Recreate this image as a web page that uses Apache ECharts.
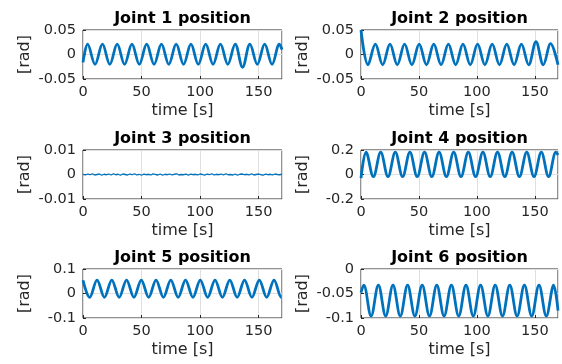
<!DOCTYPE html>
<html>
<head>
<meta charset="utf-8">
<script src="https://cdn.jsdelivr.net/npm/echarts@6/dist/echarts.min.js"></script>
<style>
html,body{margin:0;padding:0;background:#fff;}
#chart{width:562px;height:364px;}
</style>
</head>
<body>
<div id="chart"></div>
<script>
// ---- data ----
const titles = ['Joint 1 position','Joint 2 position','Joint 3 position','Joint 4 position','Joint 5 position','Joint 6 position'];
const xTicks = [0, 50, 100, 150];
const xMax = 170;
const yTicks = [
  [-0.05, 0, 0.05],
  [-0.05, 0, 0.05],
  [-0.01, 0, 0.01],
  [-0.2, 0, 0.2],
  [-0.1, 0, 0.1],
  [-0.1, -0.05, 0]
];
const yTickLabels = [
  ['-0.05','0','0.05'],
  ['-0.05','0','0.05'],
  ['-0.01','0','0.01'],
  ['-0.2','0','0.2'],
  ['-0.1','0','0.1'],
  ['-0.1','-0.05','0']
];

// Joint 1: extrema (time, value)
const j1T = [0, 4.0, 10.3, 16.6, 22.9, 29.2, 35.5, 41.8, 48.1, 54.4, 60.7, 67.0, 73.3, 79.6, 85.9, 92.2, 98.5, 104.8, 111.1, 117.4, 123.7, 130.0, 136.3, 142.6, 148.9, 155.2, 161.5, 167.8, 170];
const j1V = [-0.016, 0.021, -0.020, 0.021, -0.020, 0.021, -0.020, 0.021, -0.020, 0.021, -0.020, 0.021, -0.020, 0.021, -0.020, 0.021, -0.020, 0.021, -0.020, 0.021, -0.020, 0.021, -0.026, 0.021, -0.020, 0.021, -0.020, 0.021, 0.010];

// Joint 2
const j2T = [0, 6.1, 12.4, 18.7, 25.0, 31.3, 37.6, 43.9, 50.2, 56.5, 62.8, 69.1, 75.4, 81.7, 88.0, 94.3, 100.6, 106.9, 113.2, 119.5, 125.8, 132.1, 138.4, 144.7, 151.0, 157.3, 163.6, 170];
const j2V = [0.050, -0.021, 0.021, -0.021, 0.021, -0.021, 0.021, -0.021, 0.021, -0.021, 0.021, -0.021, 0.021, -0.021, 0.021, -0.021, 0.021, -0.021, 0.021, -0.021, 0.021, -0.021, 0.021, -0.021, 0.026, -0.021, 0.022, -0.021];

// Joint 3: small noise around zero (sampled evenly over 0..170 s)
const j3V = [0.0001,-0.0002,0.0002,-0.0001,0.0003,-0.0002,0.0000,0.0002,-0.0003,0.0001,-0.0001,0.0002,-0.0002,0.0003,-0.0001,0.0001,-0.0003,0.0002,0.0000,-0.0002,0.0002,-0.0001,0.0003,-0.0002,0.0001,-0.0003,0.0002,-0.0001,0.0001,-0.0002,0.0003,0.0000,-0.0002,0.0002,-0.0003,0.0001,-0.0001,0.0002,-0.0002,0.0001,0.0003,-0.0002,0.0000,-0.0001,0.0002,-0.0003,0.0002,-0.0001,0.0001,-0.0002,0.0002,0.0000,-0.0003,0.0002,-0.0001,0.0003,-0.0002,0.0001,-0.0001,0.0002,-0.0002,0.0003,-0.0001,0.0000,-0.0002,0.0002,-0.0003,0.0001,0.0002,-0.0001,0.0001,-0.0002,0.0003,-0.0002,0.0000,0.0002,-0.0001,-0.0003,0.0002,-0.0001,0.0001,-0.0002,0.0002,0.0000,-0.0001,0.0001];

// Joint 4
const j4T = [0, 4.4, 10.7, 17.0, 23.3, 29.6, 35.9, 42.2, 48.5, 54.8, 61.1, 67.4, 73.7, 80.0, 86.3, 92.6, 98.9, 105.2, 111.5, 117.8, 124.1, 130.4, 136.7, 143.0, 149.3, 155.6, 161.9, 168.2, 170];
const j4V = [-0.030, 0.182, -0.018, 0.182, -0.018, 0.182, -0.018, 0.182, -0.018, 0.182, -0.018, 0.182, -0.018, 0.182, -0.018, 0.182, -0.018, 0.182, -0.018, 0.182, -0.018, 0.182, -0.018, 0.182, -0.018, 0.182, -0.018, 0.182, 0.160];

// Joint 5
const j5T = [0, 5.7, 12.0, 18.3, 24.6, 30.9, 37.2, 43.5, 49.8, 56.1, 62.4, 68.7, 75.0, 81.3, 87.6, 93.9, 100.2, 106.5, 112.8, 119.1, 125.4, 131.7, 138.0, 144.3, 150.6, 156.9, 163.2, 169.5, 170];
const j5V = [0.054, -0.016, 0.055, -0.016, 0.055, -0.016, 0.055, -0.016, 0.055, -0.016, 0.055, -0.016, 0.055, -0.016, 0.055, -0.016, 0.055, -0.016, 0.055, -0.016, 0.055, -0.016, 0.055, -0.016, 0.055, -0.016, 0.055, -0.016, -0.015];

// Joint 6
const j6T = [0, 2.4, 8.7, 15.0, 21.3, 27.6, 33.9, 40.2, 46.5, 52.8, 59.1, 65.4, 71.7, 78.0, 84.3, 90.6, 96.9, 103.2, 109.5, 115.8, 122.1, 128.4, 134.7, 141.0, 147.3, 153.6, 159.9, 166.2, 170];
const j6V = [-0.048, -0.033, -0.096, -0.033, -0.096, -0.033, -0.096, -0.033, -0.096, -0.033, -0.096, -0.033, -0.096, -0.033, -0.096, -0.033, -0.096, -0.033, -0.096, -0.033, -0.096, -0.033, -0.096, -0.033, -0.096, -0.033, -0.096, -0.033, -0.085];

// ---- build chart ----
const j3T = j3V.map((v, i) => i * xMax / (j3V.length - 1));
const seriesT = [j1T, j2T, j3T, j4T, j5T, j6T];
const seriesV = [j1V, j2V, j3V, j4V, j5V, j6V];

const FONT = 'DejaVu Sans';
const TXT = '#262626';
const lefts = [83, 361];
const widths = [199, 197];
const tops = [30, 150, 269];
const titleCenters = [18.5, 138.5, 258];

const grids = [], xAxes = [], yAxes = [], series = [], titleArr = [];
for (let i = 0; i < 6; i++) {
  const col = i % 2, row = Math.floor(i / 2);
  grids.push({left: lefts[col], top: tops[row], width: widths[col], height: 49,
    show: true, borderColor: '#262626', borderWidth: 1, backgroundColor: '#fff', containLabel: false});
  titleArr.push({
    text: titles[i], left: lefts[col] + widths[col] / 2, top: titleCenters[row] - 9, textAlign: 'center',
    padding: 0,
    textStyle: {fontFamily: FONT, fontSize: 16, fontWeight: 'bold', color: '#000', lineHeight: 18}
  });
  xAxes.push({
    gridIndex: i, type: 'value', min: xTicks[0], max: xMax, interval: xTicks[1] - xTicks[0],
    position: 'bottom',
    name: 'time [s]', nameLocation: 'middle', nameGap: 24,
    nameTextStyle: {fontFamily: FONT, fontSize: 16, color: TXT},
    axisLine: {show: false, onZero: false},
    axisTick: {show: true, inside: true, length: 3, lineStyle: {color: TXT}},
    axisLabel: {fontFamily: FONT, fontSize: 14.5, color: TXT, margin: 6, showMaxLabel: false},
    splitLine: {show: true, lineStyle: {color: '#dfdfdf', width: 1}}
  });
  const yt = yTicks[i], yl = yTickLabels[i];
  yAxes.push({
    gridIndex: i, type: 'value', min: yt[0], max: yt[yt.length - 1], interval: yt[1] - yt[0],
    position: 'left',
    name: '[rad]', nameLocation: 'middle', nameGap: 50, nameRotate: 90,
    nameTextStyle: {fontFamily: FONT, fontSize: 16, color: TXT},
    axisLine: {show: false, onZero: false},
    axisTick: {show: true, inside: true, length: 3, lineStyle: {color: TXT}},
    axisLabel: {fontFamily: FONT, fontSize: 14.5, color: TXT, margin: 7,
      formatter: function (v) {
        let best = 0, d = Infinity;
        yt.forEach((t, k) => { if (Math.abs(t - v) < d) { d = Math.abs(t - v); best = k; } });
        return yl[best];
      }},
    splitLine: {show: true, lineStyle: {color: '#dfdfdf', width: 1}}
  });
  const T = seriesT[i], V = seriesV[i];
  series.push({
    type: 'line', xAxisIndex: i, yAxisIndex: i,
    data: T.map((t, k) => [t, V[k]]),
    showSymbol: false, symbol: 'none',
    smooth: i === 2 ? false : 0.36,
    lineStyle: {color: '#0072BD', width: i === 2 ? 1.3 : 2.8},
    clip: true
  });
}

const chart = echarts.init(document.getElementById('chart'), null, {renderer: 'canvas'});
chart.setOption({
  animation: false,
  backgroundColor: '#fff',
  title: titleArr,
  grid: grids,
  xAxis: xAxes,
  yAxis: yAxes,
  series: series
});
</script>
</body>
</html>
